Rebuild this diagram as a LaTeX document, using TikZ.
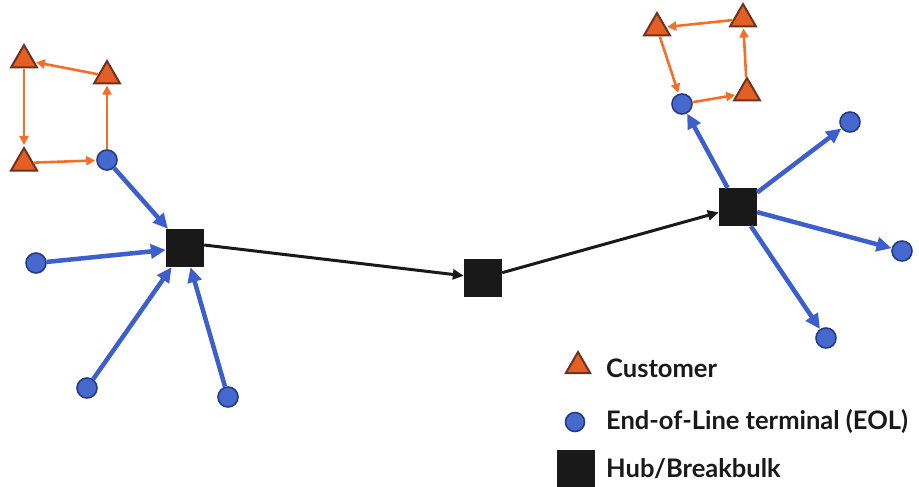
\documentclass[tikz,border=0pt]{standalone}
\usepackage{fontspec}
\setmainfont{Lato}
\usetikzlibrary{arrows.meta,shapes.geometric}
\definecolor{eolblue}{RGB}{60,95,205}
\definecolor{eolfill}{RGB}{70,105,205}
\definecolor{eoldraw}{RGB}{38,58,140}
\definecolor{custorange}{RGB}{245,110,40}
\definecolor{custfill}{RGB}{228,95,35}
\definecolor{custdraw}{RGB}{110,50,30}
\definecolor{hubblack}{RGB}{25,25,25}
\tikzset{
  eol/.style={circle,fill=eolfill,draw=eoldraw,line width=1.6pt,minimum size=20pt,inner sep=0pt},
  cust/.style={regular polygon,regular polygon sides=3,fill=custfill,draw=custdraw,line width=2pt,minimum size=30pt,inner sep=0pt},
  hub/.style={rectangle,fill=hubblack,minimum size=38pt,inner sep=0pt},
  bluearr/.style={draw=eolblue,line width=4.5pt,-{Triangle[length=15pt,width=14pt]}},
  orarr/.style={draw=custorange,line width=2.6pt,-{Triangle[length=9pt,width=9pt]},shorten >=1pt},
  blkarr/.style={draw=hubblack,line width=3pt,-{Triangle[length=11pt,width=10pt]}},
  legtext/.style={anchor=west,font=\fontsize{25.5}{28}\selectfont\bfseries,text=hubblack,inner sep=0pt}
}
\begin{document}
\begin{tikzpicture}[x=1pt,y=-1pt]
\useasboundingbox (0,0) rectangle (919,487);
% hubs
\node[hub] (h1) at (185,248) {};
\node[hub] (h2) at (483,278) {};
\node[hub] (h3) at (738,207) {};
% left cluster
\node[cust] (lt1) at (24,60) {};
\node[cust] (lt2) at (107,76) {};
\node[cust] (lt3) at (24,163) {};
\node[eol] (le0) at (107,160) {};
\node[eol] (le1) at (36,263) {};
\node[eol] (le2) at (87,388) {};
\node[eol] (le3) at (228,397) {};
% right cluster
\node[cust] (rt1) at (657,28) {};
\node[cust] (rt2) at (743,19) {};
\node[cust] (rt3) at (747,93) {};
\node[eol] (re0) at (682,104) {};
\node[eol] (re1) at (850,122) {};
\node[eol] (re2) at (902,251) {};
\node[eol] (re3) at (826,338) {};
% orange loops
\draw[orarr] (le0) -- (lt2);
\draw[orarr] (lt2) -- (lt1);
\draw[orarr] (lt1) -- (lt3);
\draw[orarr] (lt3) -- (le0);
\draw[orarr] (re0) -- (rt3);
\draw[orarr] (rt3) -- (rt2);
\draw[orarr] (rt2) -- (rt1);
\draw[orarr] (rt1) -- (re0);
% blue collection
\draw[bluearr] (le0) -- (h1);
\draw[bluearr] (le1) -- (h1);
\draw[bluearr] (le2) -- (h1);
\draw[bluearr] (le3) -- (h1);
% blue delivery
\draw[bluearr] (h3) -- (re0);
\draw[bluearr] (h3) -- (re1);
\draw[bluearr] (h3) -- (re2);
\draw[bluearr] (h3) -- (re3);
% linehaul
\draw[blkarr] (h1.east |- 0,245) -- (h2);
\draw[blkarr] (h2) -- (h3);
% legend
\node[cust,minimum size=28pt] (lgc) at (578,366) {};
\node[eol,minimum size=19pt] (lge) at (575,422) {};
\node[hub] (lgh) at (576,469) {};
\node[legtext] (tc) at (606,368) {Customer};
\node[legtext] (te) at (606,422) {End-of-Line terminal (EOL)};
\node[legtext] (th) at (606,469) {Hub/Breakbulk};
\end{tikzpicture}
\end{document}
